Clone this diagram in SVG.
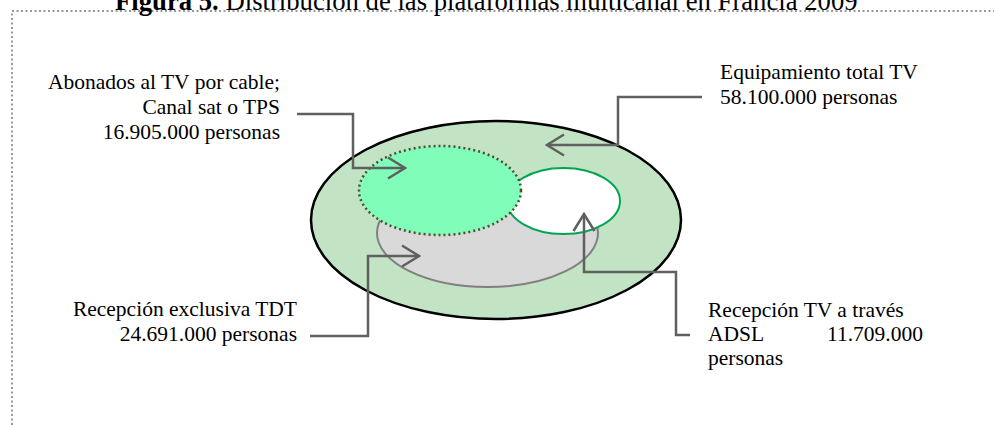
<svg xmlns="http://www.w3.org/2000/svg" width="994" height="425" viewBox="0 0 994 425">
<style>
.t{font-family:"Liberation Serif","Times New Roman",serif;font-size:21.5px;fill:#000}
.title{font-family:"Liberation Serif","Times New Roman",serif;font-size:26.7px;fill:#000}
.border{fill:none;stroke:#999;stroke-width:2;stroke-dasharray:2 2.5}
.conn{fill:none;stroke:#606060;stroke-width:2.5}
</style>
<defs>
<marker id="arr" viewBox="0 0 20 24" refX="18" refY="12" markerWidth="20" markerHeight="24" markerUnits="userSpaceOnUse" orient="auto">
<path d="M1,1.5 L18,12 L1,22.5" fill="none" stroke="#606060" stroke-width="2.5"/>
</marker>
</defs>
<rect width="994" height="425" fill="#fff"/>
<path class="border" d="M12,425 V11 H994"/>
<text id="title" class="title" x="115" y="10"><tspan font-weight="bold">Figura 5.</tspan> Distribución de las plataformas multicanal en Francia 2009</text>
<g id="total">
<ellipse cx="496" cy="220" rx="185" ry="99" fill="#c2e4c4" stroke="#000" stroke-width="2.5"/>
</g>
<g id="tdt">
<ellipse cx="487.5" cy="233" rx="110.5" ry="54" fill="#d9d9d9" stroke="#808080" stroke-width="2"/>
</g>
<g id="adsl">
<ellipse cx="563.5" cy="201" rx="56.5" ry="33" fill="#fff" stroke="#00a550" stroke-width="2"/>
</g>
<g id="cable">
<ellipse cx="440" cy="190.5" rx="81" ry="44.5" fill="#80fdb8" stroke="#4d4d30" stroke-width="2.5" stroke-dasharray="2 3"/>
</g>
<g id="connectors">
<path class="conn" d="M297,114 H353 V168 H405" marker-end="url(#arr)"/>
<path class="conn" d="M702,97 H618 V145 H547" marker-end="url(#arr)"/>
<path class="conn" d="M310,336 H368 V256 H419" marker-end="url(#arr)"/>
<path class="conn" d="M690,335 H676 V272 H584 V214" marker-end="url(#arr)"/>
</g>
<g id="label-cable">
<text class="t" x="280" y="89" text-anchor="end">Abonados al TV por cable;</text>
<text class="t" x="280" y="114" text-anchor="end">Canal sat o TPS</text>
<text class="t" x="280" y="139" text-anchor="end">16.905.000 personas</text>
</g>
<g id="label-total">
<text class="t" x="720" y="79">Equipamiento total TV</text>
<text class="t" x="720" y="104">58.100.000 personas</text>
</g>
<g id="label-tdt">
<text class="t" x="297" y="316" text-anchor="end">Recepción exclusiva TDT</text>
<text class="t" x="297" y="341" text-anchor="end">24.691.000 personas</text>
</g>
<g id="label-adsl">
<text class="t" x="708" y="317">Recepción TV a través</text>
<text class="t" x="708" y="341">ADSL</text>
<text class="t" x="923" y="341" text-anchor="end">11.709.000</text>
<text class="t" x="708" y="365">personas</text>
</g>
</svg>
